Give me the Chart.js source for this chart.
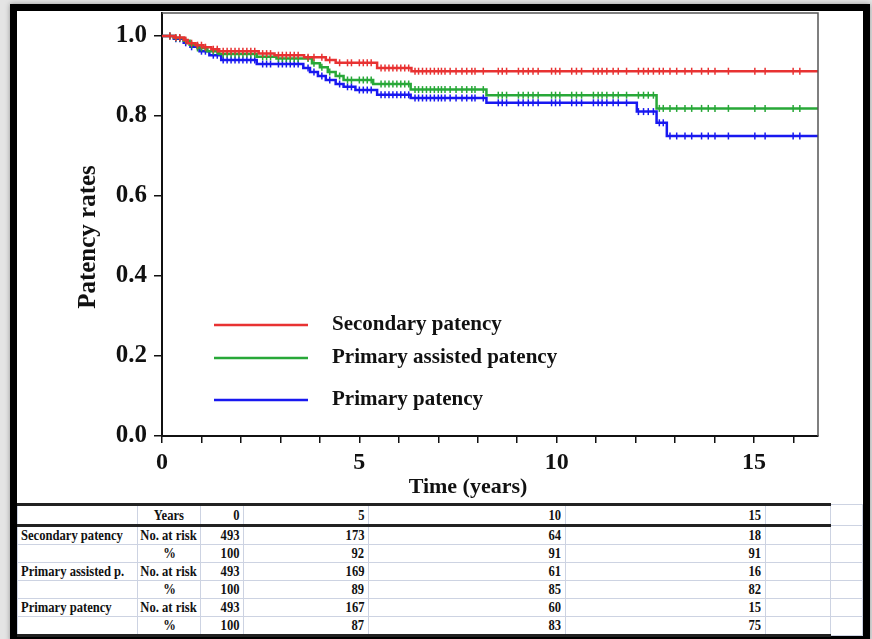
<!DOCTYPE html>
<html>
<head>
<meta charset="utf-8">
<script src="https://cdn.jsdelivr.net/npm/chart.js@4.4.0/dist/chart.umd.min.js"></script>
<style>
    body {
        margin: 0;
        width: 872px;
        height: 639px;
        overflow: hidden;
        position: relative;
        background: #e4e4e4;
        font-family: 'Liberation Serif', serif;
    }
    .frame {
        position: absolute;
        left: 10px;
        top: 4px;
        width: 860px;
        height: 638px;
        box-sizing: border-box;
        border: 7px solid #000;
        background: #fff;
        box-shadow: 0 0 5px rgba(0, 0, 0, 0.35);
    }
    #chart {
        position: absolute;
        left: 17px;
        top: 11px;
    }
    .risk {
        position: absolute;
        left: 17px;
        top: 503px;
        width: 845px;
        border-collapse: collapse;
        table-layout: fixed;
        font-size: 15px;
        font-weight: bold;
        color: #111;
    }
    .risk td {
        height: 17px;
        line-height: 17px;
        padding: 0 3px;
        border: 1px solid #cdd3e2;
        white-space: nowrap;
        overflow: visible;
    }
    .risk tr.head td { height: 18px; line-height: 18px; }
    .risk td span { display: inline-block; transform: scaleX(0.84); transform-origin: left center; }
    .risk td.num { text-align: right; padding-right: 4px; }
    .risk td.num span { transform-origin: right center; }
    .risk td.mid { text-align: center; }
    .risk td.mid span { transform-origin: center center; margin: 0 -20px; }
    .risk tr.head td.main { border-top: 3px solid #222; border-bottom: 3px solid #222; }
    .risk tr.last td.main { border-bottom: 3px solid #222; }
</style>
</head>
<body>
<div class="frame"></div>
<canvas id="chart" width="846" height="492"></canvas>
<table class="risk" id="riskTable"></table>

<script>
// axis
const yTickValues = [0, 0.2, 0.4, 0.6, 0.8, 1.0];
const xMajorStep = 5;

// curves
const seriesLabels = ['Secondary patency', 'Primary assisted patency', 'Primary patency'];
const seriesColors = ['rgb(232, 50, 50)', 'rgb(40, 168, 56)', 'rgb(24, 24, 240)'];

const secondaryTimes = [0, 0.3, 0.55, 0.65, 0.85, 1.05, 1.25, 1.45, 2.45, 2.85, 3.6, 4.15, 4.4, 5.45, 6.32, 16.62];
const secondaryRates = [1.0, 0.996, 0.99, 0.982, 0.977, 0.972, 0.967, 0.962, 0.956, 0.952, 0.947, 0.94, 0.933, 0.92, 0.912, 0.912];

const assistedTimes = [0, 0.3, 0.55, 0.7, 0.9, 1.15, 1.45, 2.4, 2.9, 3.8, 4.0, 4.2, 4.4, 4.6, 5.35, 6.3, 8.22, 12.53, 16.62];
const assistedRates = [1.0, 0.995, 0.988, 0.978, 0.97, 0.962, 0.955, 0.948, 0.944, 0.932, 0.922, 0.91, 0.9, 0.89, 0.88, 0.866, 0.852, 0.819, 0.819];

const primaryTimes = [0, 0.3, 0.55, 0.72, 0.95, 1.2, 1.5, 2.4, 3.58, 3.75, 3.95, 4.15, 4.4, 4.6, 4.9, 5.45, 6.3, 8.22, 12.03, 12.53, 12.79, 16.62];
const primaryRates = [1.0, 0.993, 0.983, 0.973, 0.962, 0.952, 0.94, 0.93, 0.92, 0.91, 0.9, 0.89, 0.88, 0.873, 0.865, 0.853, 0.845, 0.833, 0.811, 0.783, 0.75, 0.75];

// censoring marks (years)
const censorTimes = [
    0.2, 0.35, 0.45, 0.6, 0.75, 0.9, 1.0, 1.1, 1.3, 1.4, 1.55, 1.65, 1.75, 1.85, 1.95, 2.05, 2.15, 2.25, 2.35,
    2.55, 2.65, 2.75, 2.95, 3.05, 3.15, 3.25, 3.35, 3.45, 3.7, 3.85, 4.05, 4.25, 4.5, 4.7, 4.8, 5.0, 5.1, 5.2,
    5.3, 5.55, 5.65, 5.75, 5.85, 5.95, 6.05, 6.15, 6.25,
    6.41, 6.5, 6.6, 6.7, 6.8, 6.9, 7.0, 7.08, 7.17, 7.3, 7.45, 7.6, 7.72, 7.85, 7.93, 8.14, 8.52, 8.62, 8.73,
    9.03, 9.15, 9.28, 9.4, 9.53, 9.87, 9.97, 10.08, 10.38, 10.5, 10.63, 10.93, 11.05, 11.15, 11.27, 11.43,
    11.56, 11.77, 12.07, 12.2, 12.32, 12.45, 12.6, 12.7, 12.87, 13.04, 13.25, 13.42, 13.67, 13.84, 14.01,
    14.35, 15.02, 15.28, 15.99, 16.16
];

// numbers at risk table
const riskYears = [0, 5, 10, 15];
const secondaryAtRisk = [493, 173, 64, 18];
const secondaryPercent = [100, 92, 91, 91];
const assistedAtRisk = [493, 169, 61, 16];
const assistedPercent = [100, 89, 85, 82];
const primaryAtRisk = [493, 167, 60, 15];
const primaryPercent = [100, 87, 83, 75];
const riskGroups = ['Secondary patency', 'Primary assisted p.', 'Primary patency'];

const serif = "'Liberation Serif', 'Times New Roman', serif";

function buildCurve(times, rates) {
    const points = times.map((t, i) => ({ x: t, y: rates[i], censored: false }));
    censorTimes.forEach(t => {
        let level = rates[0];
        times.forEach((s, i) => { if (s <= t) level = rates[i]; });
        points.push({ x: t, y: level, censored: true });
    });
    return points.sort((a, b) => a.x - b.x);
}

function curveDataset(index, times, rates) {
    return {
        label: seriesLabels[index],
        data: buildCurve(times, rates),
        borderColor: seriesColors[index],
        borderWidth: 2.5,
        stepped: 'before',
        fill: false,
        pointStyle: 'line',
        pointRotation: 90,
        pointRadius: ctx => (ctx.raw && ctx.raw.censored ? 3.5 : 0),
        pointBorderColor: seriesColors[index],
        pointBorderWidth: 1.5,
        pointHoverRadius: 0
    };
}

const legendRows = [312, 345, 387];

const insideLegend = {
    id: 'insideLegend',
    afterDatasetsDraw(chart) {
        const { ctx, chartArea } = chart;
        ctx.save();
        chart.data.datasets.forEach((ds, i) => {
            const y = chartArea.top + legendRows[i];
            ctx.strokeStyle = ds.borderColor;
            ctx.lineWidth = 2.5;
            ctx.beginPath();
            ctx.moveTo(chartArea.left + 52, y);
            ctx.lineTo(chartArea.left + 146, y);
            ctx.stroke();
            ctx.fillStyle = '#111';
            ctx.font = `bold 21px ${serif}`;
            ctx.textBaseline = 'middle';
            ctx.fillText(ds.label, chartArea.left + 170, y);
        });
        ctx.restore();
    }
};

const plotFrame = {
    id: 'plotFrame',
    afterDraw(chart) {
        const { ctx, chartArea: { left, top, right, bottom } } = chart;
        ctx.save();
        ctx.strokeStyle = '#555';
        ctx.lineWidth = 1.5;
        ctx.beginPath();
        ctx.moveTo(left, top);
        ctx.lineTo(right, top);
        ctx.lineTo(right, bottom);
        ctx.stroke();
        ctx.restore();
    }
};

new Chart(document.getElementById('chart'), {
    type: 'line',
    data: {
        datasets: [
            curveDataset(0, secondaryTimes, secondaryRates),
            curveDataset(1, assistedTimes, assistedRates),
            curveDataset(2, primaryTimes, primaryRates)
        ]
    },
    options: {
        responsive: false,
        animation: false,
        devicePixelRatio: 1,
        layout: { padding: { top: 2, right: 45, left: 0, bottom: 0 } },
        plugins: {
            legend: { display: false },
            tooltip: { enabled: false }
        },
        scales: {
            x: {
                type: 'linear',
                min: 0,
                max: 16.62,
                afterFit: scale => {
                    scale.height = 67;
                    scale.paddingLeft = 0;
                    scale.paddingRight = 0;
                },
                ticks: {
                    stepSize: 1,
                    includeBounds: false,
                    autoSkip: false,
                    maxRotation: 0,
                    padding: 5,
                    color: '#111',
                    font: { family: serif, size: 24, weight: 'bold' },
                    callback: v => (v % xMajorStep === 0 ? String(v) : '')
                },
                grid: { drawOnChartArea: false, drawTicks: true, tickLength: 7, color: '#111', lineWidth: 1.5 },
                border: { display: true, color: '#111', width: 2 },
                title: {
                    display: true,
                    text: 'Time (years)' + '\u00a0'.repeat(8),
                    color: '#111',
                    font: { family: serif, size: 22, weight: 'bold' },
                    padding: { top: 0, bottom: 2 }
                }
            },
            y: {
                min: 0,
                max: 1.0575,
                afterFit: scale => {
                    scale.width = 145;
                    scale.paddingTop = 0;
                    scale.paddingBottom = 0;
                },
                afterBuildTicks: scale => { scale.ticks = yTickValues.map(v => ({ value: v })); },
                ticks: {
                    padding: 7,
                    color: '#111',
                    font: { family: serif, size: 25, weight: 'bold' },
                    callback: v => Number(v).toFixed(1)
                },
                grid: { drawOnChartArea: false, drawTicks: true, tickLength: 8, color: '#111', lineWidth: 1.5 },
                border: { display: true, color: '#111', width: 2 },
                title: {
                    display: true,
                    text: 'Patency rates' + '\u00a0'.repeat(4),
                    color: '#111',
                    font: { family: serif, size: 25, weight: 'bold' },
                    padding: { top: 57, bottom: 0 }
                }
            }
        }
    },
    plugins: [insideLegend, plotFrame]
});

function renderRiskTable() {
    const colWidths = [120, 63, 43, 125, 197, 200, 65, 32];
    const cols = colWidths.map(w => `<col style="width:${w}px">`).join('');
    const cell = (cls, text) => `<td class="${cls}"><span>${text}</span></td>`;
    const valueCells = values => values.map(v => cell('num main', v)).join('');
    const tail = '<td class="main"></td><td></td>';

    const head = `<tr class="head">${cell('main', '')}${cell('mid main', 'Years')}${valueCells(riskYears)}${tail}</tr>`;
    const groups = [
        [secondaryAtRisk, secondaryPercent],
        [assistedAtRisk, assistedPercent],
        [primaryAtRisk, primaryPercent]
    ];
    const body = groups.map(([atRisk, percent], i) => {
        const lastClass = i === groups.length - 1 ? 'last' : '';
        return `
            <tr>${cell('main', riskGroups[i])}${cell('mid main', 'No. at risk')}${valueCells(atRisk)}${tail}</tr>
            <tr class="${lastClass}">${cell('main', '')}${cell('mid main', '%')}${valueCells(percent)}${tail}</tr>
        `;
    }).join('');

    document.getElementById('riskTable').innerHTML = `<colgroup>${cols}</colgroup>${head}${body}`;
}

renderRiskTable();
</script>
</body>
</html>
